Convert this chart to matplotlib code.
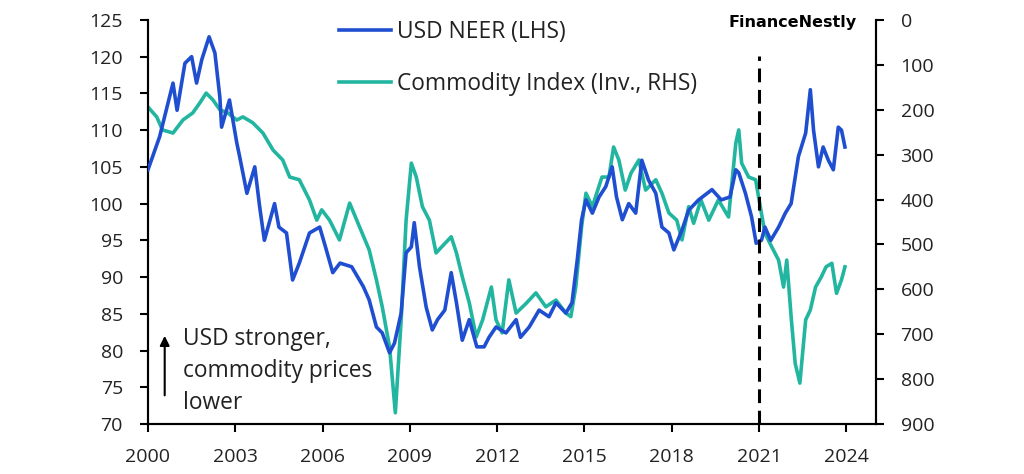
import matplotlib
matplotlib.use('Agg')
from matplotlib import pyplot as plt
import numpy as np

# USD NEER (LHS)
usd_years = [2000.0, 2000.4, 2000.86, 2001.0, 2001.27, 2001.5, 2001.67, 2001.85, 2002.1, 2002.3,
             2002.47, 2002.53, 2002.8, 2003.05, 2003.15, 2003.4, 2003.67, 2003.84, 2004.0, 2004.35,
             2004.5, 2004.76, 2004.97, 2005.2, 2005.55, 2005.9, 2006.1, 2006.35, 2006.6, 2007.0,
             2007.4, 2007.6, 2007.85, 2008.05, 2008.3, 2008.47, 2008.7, 2008.87, 2009.05, 2009.15,
             2009.33, 2009.56, 2009.77, 2009.95, 2010.2, 2010.42, 2010.6, 2010.8, 2011.04, 2011.3,
             2011.55, 2011.72, 2011.96, 2012.3, 2012.65, 2012.8, 2013.1, 2013.44, 2013.78, 2014.02,
             2014.36, 2014.57, 2014.75, 2014.9, 2015.05, 2015.27, 2015.5, 2015.73, 2015.95, 2016.1,
             2016.3, 2016.52, 2016.76, 2016.97, 2017.2, 2017.45, 2017.66, 2017.9, 2018.07, 2018.35,
             2018.58, 2018.92, 2019.38, 2019.7, 2020.0, 2020.2, 2020.3, 2020.53, 2020.74, 2020.9,
             2021.08, 2021.2, 2021.4, 2021.67, 2021.9, 2022.1, 2022.35, 2022.6, 2022.76, 2022.87,
             2023.04, 2023.2, 2023.38, 2023.55, 2023.72, 2023.83, 2023.95]
usd_neer = [104.6, 109.1, 116.4, 112.7, 119.1, 120.0, 116.4, 119.6, 122.7, 120.5,
            114.5, 110.4, 114.1, 108.3, 106.4, 101.4, 105.0, 99.5, 95.0, 100.0,
            96.8, 96.0, 89.6, 91.9, 96.0, 96.8, 94.1, 90.6, 91.9, 91.4,
            88.7, 86.9, 83.2, 82.4, 79.7, 81.0, 85.1, 93.3, 94.1, 97.4,
            91.4, 85.9, 82.8, 84.2, 85.5, 90.6, 86.5, 81.4, 84.2, 80.5,
            80.5, 81.8, 83.2, 82.4, 84.2, 81.8, 83.2, 85.5, 84.6, 86.5,
            85.1, 86.5, 92.3, 97.8, 100.5, 98.7, 100.9, 102.3, 105.0, 100.9,
            97.8, 100.0, 98.7, 105.9, 103.2, 101.4, 96.8, 96.0, 93.7, 96.4,
            99.1, 100.5, 101.9, 100.5, 100.9, 104.6, 104.2, 101.4, 98.2, 94.6,
            95.0, 96.8, 95.0, 96.8, 98.7, 100.0, 106.4, 109.6, 115.5, 110.0,
            105.0, 107.7, 105.9, 104.6, 110.4, 110.0, 107.7]

# Commodity index (inverted, RHS)
com_years = [2000.0, 2000.3, 2000.5, 2000.86, 2001.2, 2001.54, 2001.78, 2002.0, 2002.23, 2002.47,
             2002.74, 2003.05, 2003.26, 2003.6, 2003.95, 2004.3, 2004.63, 2004.87, 2005.2, 2005.55,
             2005.8, 2005.97, 2006.24, 2006.58, 2006.93, 2007.27, 2007.6, 2007.85, 2008.05, 2008.3,
             2008.5, 2008.7, 2008.87, 2009.05, 2009.22, 2009.43, 2009.67, 2009.9, 2010.1, 2010.42,
             2010.6, 2010.8, 2011.04, 2011.28, 2011.5, 2011.8, 2011.96, 2012.17, 2012.4, 2012.65,
             2013.0, 2013.33, 2013.67, 2014.02, 2014.36, 2014.53, 2014.7, 2014.9, 2015.05, 2015.27,
             2015.6, 2015.84, 2016.0, 2016.18, 2016.4, 2016.6, 2016.87, 2017.1, 2017.45, 2017.66,
             2017.9, 2018.17, 2018.35, 2018.58, 2018.75, 2019.0, 2019.27, 2019.6, 2019.95, 2020.2,
             2020.3, 2020.4, 2020.64, 2020.88, 2021.04, 2021.2, 2021.43, 2021.67, 2021.84, 2021.95,
             2022.1, 2022.24, 2022.4, 2022.6, 2022.76, 2022.94, 2023.14, 2023.3, 2023.5, 2023.66,
             2023.83, 2023.95]
commodity = [194, 216, 245, 252, 223, 207, 185, 163, 178, 200,
             207, 223, 216, 229, 252, 290, 312, 350, 356, 401,
             446, 423, 446, 490, 408, 461, 512, 579, 639, 728,
             875, 668, 446, 319, 350, 416, 446, 519, 505, 483,
             519, 572, 630, 706, 668, 595, 668, 697, 579, 653,
             631, 608, 639, 624, 653, 661, 595, 461, 386, 416,
             350, 350, 283, 312, 379, 341, 312, 379, 356, 386,
             430, 446, 490, 416, 453, 401, 446, 401, 439, 274,
             245, 319, 350, 356, 416, 475, 505, 535, 595, 535,
             661, 765, 809, 668, 646, 595, 572, 550, 542, 609,
             579, 550]

x_ticks = [2000, 2003, 2006, 2009, 2012, 2015, 2018, 2021, 2024]
left_ticks = np.arange(70, 126, 5)
right_ticks = np.arange(0, 901, 100)

color_usd = '#1f4fd0'
color_com = '#22b5a0'
text_color = '#222222'
font = 'Open Sans'
tick_size = 14
label_size = 16.4

plt.rcParams['font.family'] = [font, 'DejaVu Sans']

f, ax = plt.subplots(figsize=(10.24, 4.74), dpi=100)
f.subplots_adjust(left=0.1445, right=0.855, bottom=0.1055, top=0.958)
ax2 = ax.twinx()

l1, = ax.plot(usd_years, usd_neer, color=color_usd, linewidth=2.6, zorder=3)
l2, = ax2.plot(com_years, commodity, color=color_com, linewidth=2.6, zorder=2)
ax.set_zorder(ax2.get_zorder() + 1)
ax.patch.set_visible(False)

ax.set_xlim(2000, 2025)
ax.set_ylim(70, 125)
ax2.set_ylim(900, 0)
ax.set_xticks(x_ticks)
ax.set_yticks(left_ticks)
ax2.set_yticks(right_ticks)

for a in (ax, ax2):
    a.spines['top'].set_visible(False)
    for s in ['left', 'right', 'bottom']:
        a.spines[s].set_linewidth(1.5)
    a.tick_params(axis='both', direction='out', length=6, width=1.5,
                  labelsize=tick_size, colors='black', labelcolor=text_color)
ax.tick_params(axis='y', pad=12)
ax2.tick_params(axis='y', pad=12)
ax.tick_params(axis='x', pad=11)

# dashed marker at 2021
ax.axvline(2021, ymin=0, ymax=0.91, color='black', linestyle=(0, (4.5, 2.5)), linewidth=2.2, zorder=4)

# annotation arrow and text
ax.annotate('', xy=(0.023, 0.225), xytext=(0.023, 0.064), xycoords='axes fraction',
            arrowprops=dict(arrowstyle='-|>', color='black', lw=1.5, mutation_scale=14))
ax.text(0.048, 0.241, 'USD stronger,\ncommodity prices\nlower', transform=ax.transAxes,
        fontsize=label_size, color=text_color, va='top', ha='left', linespacing=1.46)

# legend
ax.legend([l1, l2], ['USD NEER (LHS)', 'Commodity Index (Inv., RHS)'],
          loc='upper left', bbox_to_anchor=(0.235, 1.05), frameon=False,
          fontsize=label_size, handlelength=2.26, handletextpad=0.26, labelspacing=1.22,
          labelcolor=text_color)

# watermark
f.text(0.711, 0.953, 'FinanceNestly', fontsize=11.5, fontweight='bold', color='black',
       family='DejaVu Sans', ha='left', va='center')

f.savefig('out.png', dpi=100)
